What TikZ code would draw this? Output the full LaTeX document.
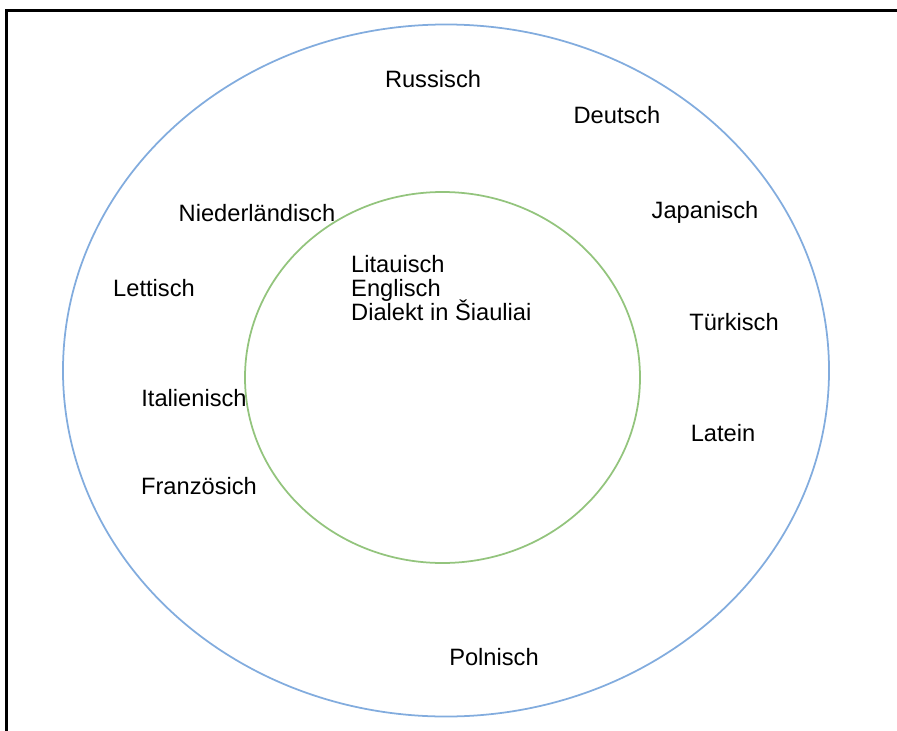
\documentclass[tikz,border=0pt]{standalone}
\usepackage{fontspec}
\setmainfont{Liberation Sans}
\usepackage{tikz}
\definecolor{outerblue}{RGB}{130,172,222}
\definecolor{innergreen}{RGB}{147,196,125}

\begin{document}
\begin{tikzpicture}[x=0.03cm, y=-0.03cm]
\tikzstyle{every node} = [inner sep=0pt, anchor=base, font=\fontsize{20.2}{20.7}\selectfont]
\useasboundingbox (0,0) rectangle (897,731);

% frame
\draw [line width=0.07cm] (6.5,731) -- (6.5,10.5) -- (897,10.5);

% rings
\draw [outerblue, line width=1.5pt] (446,370.5) ellipse [x radius=11.49cm, y radius=10.38cm];
\draw [innergreen, line width=1.5pt] (442.5,377.5) ellipse [x radius=5.925cm, y radius=5.565cm];

\node (rus) at (433, 88) {Russisch};
\node (deu) at (617, 123) {Deutsch};
\node (jap) at (705, 218) {Japanisch};
\node (nld) at (257, 221) {Niederländisch};
\node (lav) at (154, 296) {Lettisch};
\node (tur) at (734, 330) {Türkisch};
\node (ita) at (194, 406) {Italienisch};
\node (lat) at (723, 441) {Latein};
\node (fra) at (199, 494) {Französich};
\node (pol) at (494, 665) {Polnisch};

\node [anchor=base west] (lit) at (351, 272) {Litauisch};
\node [anchor=base west] (eng) at (351, 296) {Englisch};
\node [anchor=base west] (dia) at (351, 320) {Dialekt in Šiauliai};

% \node (x) at (0,0) {};
\end{tikzpicture}
\end{document}
